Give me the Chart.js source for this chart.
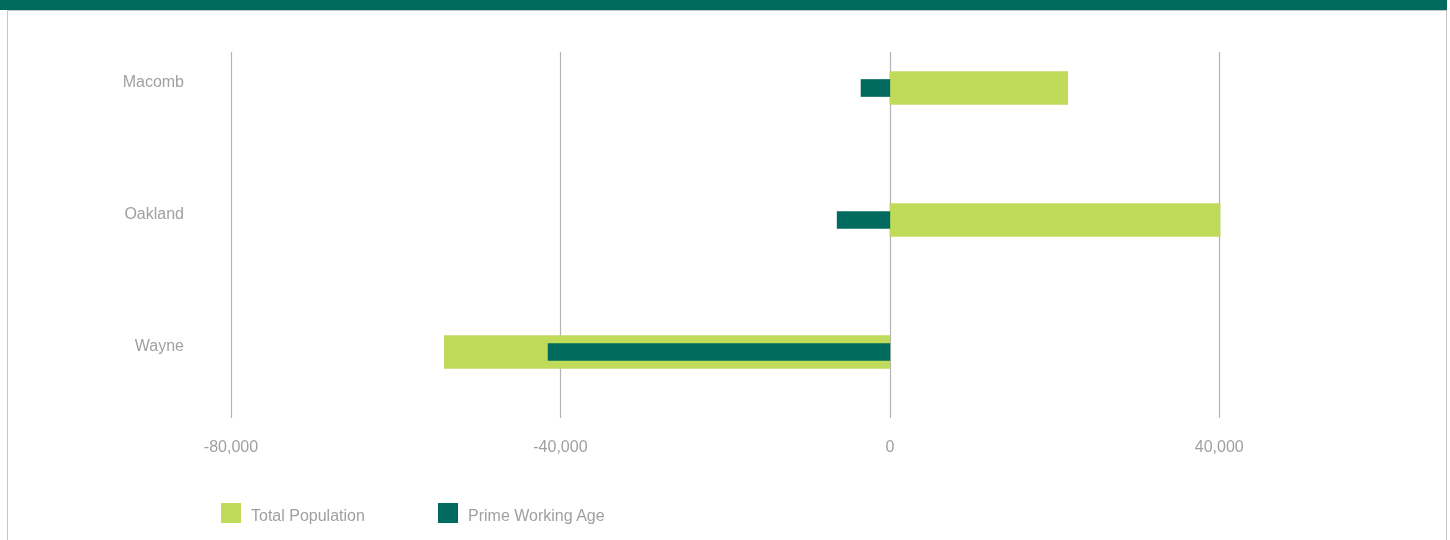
<!DOCTYPE html>
<html>
<head>
<meta charset="utf-8">
<script src="https://cdn.jsdelivr.net/npm/chart.js@4/dist/chart.umd.min.js"></script>
<style>
    body { margin: 0; width: 1450px; height: 540px; overflow: hidden; background: #fff; font-family: Arial, "Liberation Sans", sans-serif; }
    #topbar { position: absolute; left: 0; top: 0; width: 1447px; height: 10px; background: #006b5e; }
    #frame { position: absolute; left: 7px; top: 10px; width: 1438px; height: 540px; border: 1px solid #c6c6c6; border-bottom: none; }
    #wrap { position: absolute; left: 8px; top: 11px; width: 1438px; height: 529px; }
    #legend { position: absolute; top: 503px; left: 0; width: 1450px; height: 20px; }
    .item { position: absolute; top: 0; height: 20px; line-height: 25px; font-size: 16px; color: #a0a0a0; white-space: nowrap; }
    .item span { display: inline-block; width: 20px; height: 20px; vertical-align: top; margin-right: 10px; }
</style>
</head>
<body>
<div id="topbar"></div>
<div id="frame"></div>
<div id="wrap"><canvas id="chartCounties"></canvas></div>
<div id="legend"></div>
<script>
    var counties = ['Macomb', 'Oakland', 'Wayne'];
    var totalPopulation = [21600, 40100, -54100];
    var primeWorkingAge = [-3500, -6400, -41500];
    var xTicks = [-80000, -40000, 0, 40000];

    var labelColor = '#a0a0a0';
    var fontFamily = 'Arial, "Liberation Sans", sans-serif';

    // vertical grid lines, stopping short of the top of the plot
    var gridLines = {
        id: 'gridLines',
        beforeDatasetsDraw: function (chart) {
            var ctx = chart.ctx;
            var xs = chart.scales.x;
            ctx.save();
            ctx.strokeStyle = '#b4b4b4';
            ctx.lineWidth = 1.2;
            xs.ticks.forEach(function (t) {
                var px = Math.round(xs.getPixelForValue(t.value)) + 0.5;
                ctx.beginPath();
                ctx.moveTo(px, 41);
                ctx.lineTo(px, chart.chartArea.bottom);
                ctx.stroke();
            });
            ctx.restore();
        }
    };

    var cc = document.getElementById('chartCounties');
    var chartCounties = new Chart(cc, {
        type: 'bar',
        plugins: [gridLines],
        data: {
            labels: counties,
            datasets: [
                {
                    label: 'Total Population',
                    data: totalPopulation,
                    backgroundColor: '#c0da5a',
                    barThickness: 33,
                    grouped: false,
                    order: 1,
                },
                {
                    label: 'Prime Working Age',
                    data: primeWorkingAge,
                    backgroundColor: '#006b5e',
                    barThickness: 17,
                    grouped: false,
                    order: 0,
                },
            ],
        },
        options: {
            indexAxis: 'y',
            responsive: true,
            maintainAspectRatio: false,
            animation: false,
            layout: {
                padding: { top: 11, right: 62, bottom: 0, left: 0 },
            },
            scales: {
                x: {
                    min: -80000,
                    max: 60000,
                    afterBuildTicks: function (scale) {
                        scale.ticks = xTicks.map(function (v) { return { value: v }; });
                    },
                    afterFit: function (scale) {
                        scale.height = 122;
                        scale.paddingTop = 0;
                        scale.paddingBottom = 0;
                    },
                    grid: { display: false, drawTicks: false },
                    border: { display: false },
                    ticks: {
                        padding: 20,
                        color: labelColor,
                        font: { family: fontFamily, size: 16 },
                        maxRotation: 0,
                        callback: function (value) {
                            return value.toLocaleString('en-US');
                        },
                    },
                },
                y: {
                    afterFit: function (scale) {
                        scale.width = 223;
                        scale.paddingTop = 0;
                        scale.paddingBottom = 0;
                    },
                    grid: { display: false, drawTicks: false },
                    border: { display: false },
                    ticks: {
                        padding: 47,
                        labelOffset: -5,
                        color: labelColor,
                        font: { family: fontFamily, size: 16 },
                    },
                },
            },
            plugins: {
                legend: { display: false },
                tooltip: { enabled: false },
            },
        },
    });

    // legend row under the chart
    var legend = document.getElementById('legend');
    var legendX = [221, 438];
    chartCounties.data.datasets.forEach(function (ds, i) {
        var item = document.createElement('div');
        item.className = 'item';
        item.style.left = legendX[i] + 'px';
        var box = document.createElement('span');
        box.style.background = ds.backgroundColor;
        item.appendChild(box);
        item.appendChild(document.createTextNode(ds.label));
        legend.appendChild(item);
    });
</script>
</body>
</html>
